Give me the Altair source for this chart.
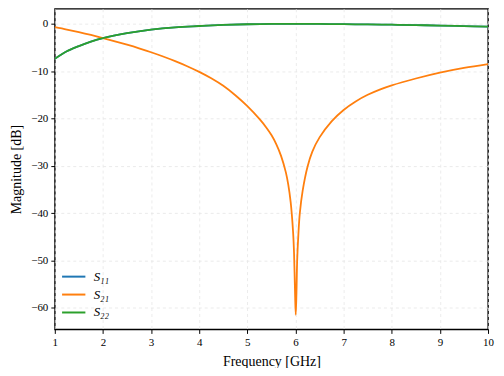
import altair as alt
import pandas as pd

series_names = ["S₁₁", "S₂₁", "S₂₂"]
colors = ["#1f77b4", "#ff7f0e", "#2ca02c"]

freq_refl = [1.0, 1.25, 1.5, 1.75, 2.0, 2.5, 3.0, 3.5, 4.0, 4.5, 5.0, 5.5,
             6.0, 6.5, 7.0, 7.5, 8.0, 8.5, 9.0, 9.5, 10.0]
s11_db = [-7.4, -5.8, -4.7, -3.75, -3.0, -1.95, -1.2, -0.72, -0.45, -0.22, -0.08,
          -0.02, 0.0, -0.02, -0.07, -0.12, -0.18, -0.26, -0.36, -0.47, -0.6]
s22_db = list(s11_db)

freq_s21 = [1.0, 1.25, 1.5, 1.75, 2.0, 2.25, 2.5, 2.75, 3.0, 3.25, 3.5, 3.75, 4.0,
            4.25, 4.5, 4.75, 5.0, 5.25, 5.4, 5.5, 5.6, 5.7, 5.8, 5.85, 5.9, 5.95,
            5.97, 5.99, 6.005, 6.02, 6.035, 6.06, 6.09, 6.15, 6.25, 6.35, 6.5,
            6.75, 7.0, 7.25, 7.5, 7.75, 8.0, 8.5, 9.0, 9.5, 10.0]
s21_db = [-0.7, -1.2, -1.75, -2.35, -3.0, -3.68, -4.4, -5.17, -6.0, -6.9, -7.88,
          -8.95, -10.15, -11.5, -13.1, -15.1, -17.4, -20.1, -22.0, -23.5, -25.4,
          -27.9, -31.4, -34.0, -37.7, -44.0, -48.5, -56.5, -61.5, -57.0, -50.0,
          -44.5, -40.0, -35.2, -30.2, -27.0, -24.0, -20.6, -18.2, -16.4, -15.0,
          -13.9, -13.0, -11.55, -10.3, -9.3, -8.5]

x_ticks = [1, 2, 3, 4, 5, 6, 7, 8, 9, 10]
y_ticks = [-60, -50, -40, -30, -20, -10, 0]

df11 = pd.DataFrame({"f": freq_refl, "mag": s11_db, "s": series_names[0]})
df21 = pd.DataFrame({"f": freq_s21, "mag": s21_db, "s": series_names[1]})
df22 = pd.DataFrame({"f": freq_refl, "mag": s22_db, "s": series_names[2]})

FONT = "Liberation Serif"

x_enc = alt.X("f:Q", scale=alt.Scale(domain=[1, 10], nice=False, zero=False),
              axis=alt.Axis(values=x_ticks, title="Frequency [GHz]", format="d",
                            labelFlush=False))
y_enc = alt.Y("mag:Q", scale=alt.Scale(domain=[-64.6, 3.2], nice=False, zero=False),
              axis=alt.Axis(values=y_ticks, title="Magnitude [dB]", format="d"))
color_enc = alt.Color("s:N", scale=alt.Scale(domain=series_names, range=colors),
                      legend=alt.Legend(title=None, orient="none", legendX=9, legendY=259,
                                        symbolType="M-1.3,0H1.3", symbolStrokeWidth=2,
                                        symbolSize=324, labelFont=FONT, labelFontSize=13,
                                        labelFontStyle="italic", rowPadding=1, padding=0,
                                        labelOffset=10))

def line(df):
    return alt.Chart(df).mark_line(strokeWidth=1.8, clip=True,
                                   interpolate="catmull-rom").encode(
        x=x_enc, y=y_enc, color=color_enc)

chart = alt.layer(line(df11), line(df21), line(df22)).properties(
    width=435, height=322,
    autosize=alt.AutoSizeParams(type="none"),
    padding={"left": 47, "top": 0, "right": 8, "bottom": 38},
).configure_view(
    stroke="black", strokeWidth=1.4
).configure_axis(
    domain=False, grid=True, gridColor="#e6e6e6", gridDash=[3, 3], gridWidth=0.8,
    tickColor="black", tickSize=4, tickWidth=1,
    labelFont=FONT, labelFontSize=11, labelColor="black",
    titleFont=FONT, titleFontSize=14, titleFontWeight="normal", titleColor="black",
).configure_axisX(labelPadding=3, titlePadding=7).configure_axisY(labelPadding=3, titlePadding=7)

chart.save("out.html", embed_options={"renderer": "svg", "actions": False})
